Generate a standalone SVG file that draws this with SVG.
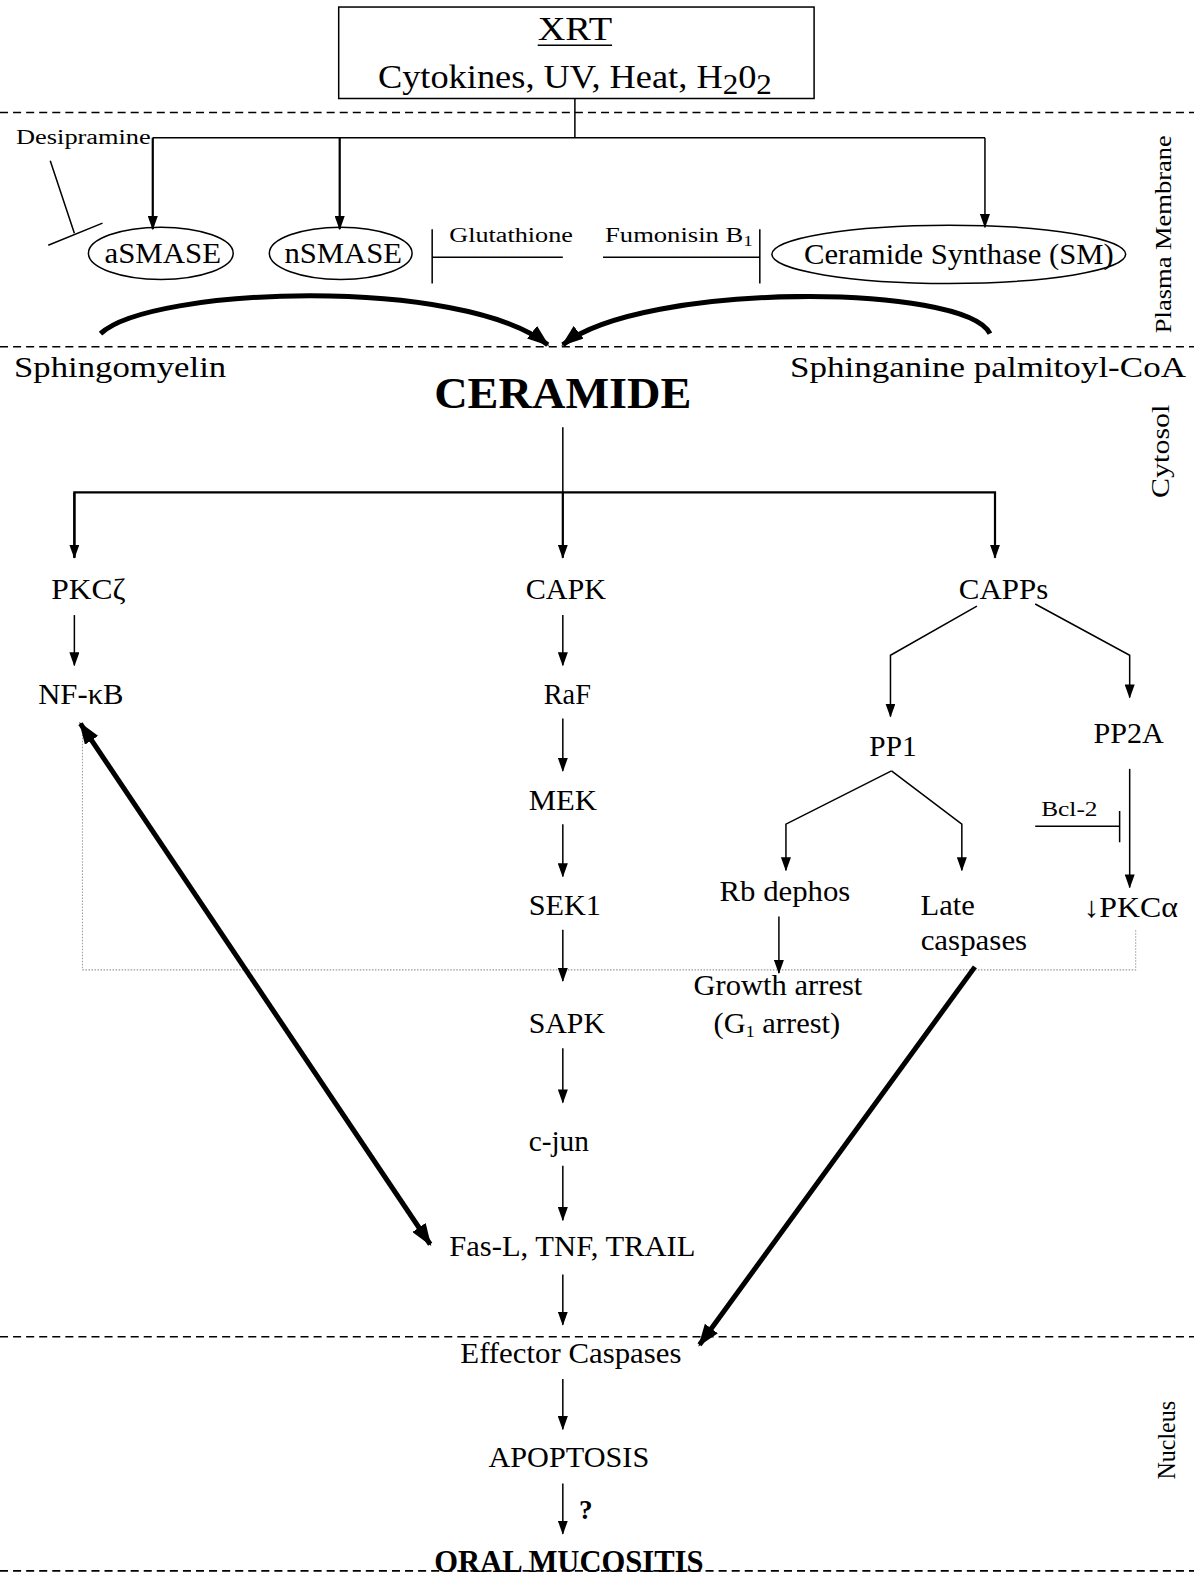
<svg xmlns="http://www.w3.org/2000/svg" width="1194" height="1576" viewBox="0 0 1194 1576">
<style>
text{font-family:"Liberation Serif","Times New Roman",serif;fill:#000}
.lbl{font-size:29px}
.sm{font-size:21px}
.side{font-size:24px}
.ln{stroke:#000;stroke-width:1.5;fill:none}
.ln2{stroke:#000;stroke-width:2.2;fill:none}
.thick{stroke:#000;stroke-width:5;fill:none}
.dash{stroke:#000;stroke-width:1.6;stroke-dasharray:8 5;fill:none}
.dot{stroke:#999;stroke-width:1;stroke-dasharray:1.5 1.5;fill:none}
.ell{stroke:#000;stroke-width:1.5;fill:#fff}
</style>
<defs>
<marker id="ah" viewBox="0 0 14 10" refX="13" refY="5" markerWidth="14" markerHeight="10" markerUnits="userSpaceOnUse" orient="auto"><path d="M0,0 L14,5 L0,10 z" fill="#000"/></marker>
<marker id="ahb" viewBox="0 0 22 16" refX="20" refY="8" markerWidth="22" markerHeight="16" markerUnits="userSpaceOnUse" orient="auto-start-reverse"><path d="M0,0 L22,8 L0,16 z" fill="#000"/></marker>
</defs>
<rect width="1194" height="1576" fill="#fff"/>
<g transform="scale(1.00505)">
<g id="compartments">
<line class="dash" x1="0" y1="112" x2="1188" y2="112"/>
<line class="dash" x1="0" y1="345" x2="1188" y2="345"/>
<line class="dash" x1="0" y1="1330" x2="1188" y2="1330"/>
<line class="dash" x1="0" y1="1563" x2="1188" y2="1563"/>
<text class="side" transform="translate(1165,233) rotate(-90)" text-anchor="middle" textLength="197" lengthAdjust="spacingAndGlyphs">Plasma Membrane</text>
<text class="side" transform="translate(1163,449) rotate(-90)" text-anchor="middle" style="font-size:26px" textLength="93" lengthAdjust="spacingAndGlyphs">Cytosol</text>
<text class="side" transform="translate(1169,1433) rotate(-90)" text-anchor="middle" style="font-size:26px" textLength="78" lengthAdjust="spacingAndGlyphs">Nucleus</text>
<path class="dot" d="M82,722 L82,965 L1130,965 L1130,925"/>
</g>
<g id="stimuli">
<rect x="337" y="7" width="473" height="91" fill="#fff" stroke="#000" stroke-width="1.5"/>
<text x="535" y="40" style="font-size:34px" textLength="74" lengthAdjust="spacingAndGlyphs">XRT</text>
<line x1="535" y1="45" x2="609" y2="45" stroke="#000" stroke-width="1.5"/>
<text x="376" y="88" style="font-size:34px" textLength="392" lengthAdjust="spacingAndGlyphs">Cytokines, UV, Heat, H<tspan baseline-shift="-6" style="font-size:29px">2</tspan>0<tspan baseline-shift="-6" style="font-size:29px">2</tspan></text>
</g>
<g id="desipramine"><text class="sm" x="16" y="143" textLength="134" lengthAdjust="spacingAndGlyphs">Desipramine</text></g>
<g id="asmase"><ellipse class="ell" cx="160" cy="252" rx="72" ry="26"/><text class="lbl" x="104" y="262" textLength="116" lengthAdjust="spacingAndGlyphs">aSMASE</text></g>
<g id="nsmase"><ellipse class="ell" cx="339" cy="252" rx="71" ry="26"/><text class="lbl" x="283" y="262" textLength="117" lengthAdjust="spacingAndGlyphs">nSMASE</text></g>
<g id="glutathione"><text class="sm" x="447" y="241" textLength="123" lengthAdjust="spacingAndGlyphs">Glutathione</text></g>
<g id="fumonisin"><text class="sm" x="602" y="241" textLength="147" lengthAdjust="spacingAndGlyphs">Fumonisin B<tspan baseline-shift="-4" style="font-size:15px">1</tspan></text></g>
<g id="ceramide-synthase"><ellipse class="ell" cx="944" cy="253" rx="176" ry="29"/><text class="lbl" x="800" y="263" textLength="308" lengthAdjust="spacingAndGlyphs">Ceramide Synthase (SM)</text></g>
<g id="sphingomyelin"><text x="14" y="375" style="font-size:30px" textLength="211" lengthAdjust="spacingAndGlyphs">Sphingomyelin</text></g>
<g id="sphinganine"><text x="786" y="375" style="font-size:30px" textLength="394" lengthAdjust="spacingAndGlyphs">Sphinganine palmitoyl-CoA</text></g>
<g id="ceramide"><text x="432" y="406" style="font-size:44px;font-weight:bold" textLength="256" lengthAdjust="spacingAndGlyphs">CERAMIDE</text></g>
<g id="pkcz"><text class="lbl" x="51" y="596" textLength="74" lengthAdjust="spacingAndGlyphs">PKCζ</text></g>
<g id="capk"><text class="lbl" x="523" y="596" textLength="80" lengthAdjust="spacingAndGlyphs">CAPK</text></g>
<g id="capps"><text class="lbl" x="954" y="596" textLength="89" lengthAdjust="spacingAndGlyphs">CAPPs</text></g>
<g id="nfkb"><text class="lbl" x="38" y="700" textLength="85" lengthAdjust="spacingAndGlyphs">NF-κB</text></g>
<g id="raf"><text class="lbl" x="541" y="700" textLength="47" lengthAdjust="spacingAndGlyphs">RaF</text></g>
<g id="mek"><text class="lbl" x="526" y="806" textLength="68" lengthAdjust="spacingAndGlyphs">MEK</text></g>
<g id="sek1"><text class="lbl" x="526" y="910" textLength="72" lengthAdjust="spacingAndGlyphs">SEK1</text></g>
<g id="sapk"><text class="lbl" x="526" y="1028" textLength="76" lengthAdjust="spacingAndGlyphs">SAPK</text></g>
<g id="cjun"><text class="lbl" x="526" y="1145" textLength="60" lengthAdjust="spacingAndGlyphs">c-jun</text></g>
<g id="fasl"><text class="lbl" x="447" y="1250" textLength="245" lengthAdjust="spacingAndGlyphs">Fas-L, TNF, TRAIL</text></g>
<g id="effector"><text class="lbl" x="458" y="1356" textLength="220" lengthAdjust="spacingAndGlyphs">Effector Caspases</text></g>
<g id="apoptosis"><text class="lbl" x="486" y="1460" textLength="160" lengthAdjust="spacingAndGlyphs">APOPTOSIS</text></g>
<g id="mucositis"><text x="432" y="1564" style="font-size:31px;font-weight:bold" textLength="268" lengthAdjust="spacingAndGlyphs">ORAL MUCOSITIS</text></g>
<g id="pp1"><text class="lbl" x="865" y="752" textLength="47" lengthAdjust="spacingAndGlyphs">PP1</text></g>
<g id="pp2a"><text class="lbl" x="1088" y="739" textLength="70" lengthAdjust="spacingAndGlyphs">PP2A</text></g>
<g id="rb"><text class="lbl" x="716" y="896" textLength="130" lengthAdjust="spacingAndGlyphs">Rb dephos</text></g>
<g id="late"><text class="lbl" x="916" y="910" textLength="54" lengthAdjust="spacingAndGlyphs">Late</text><text class="lbl" x="916" y="945" textLength="106" lengthAdjust="spacingAndGlyphs">caspases</text></g>
<g id="pkca"><text class="lbl" x="1078" y="912" textLength="94" lengthAdjust="spacingAndGlyphs">↓PKCα</text></g>
<g id="bcl2"><text class="sm" x="1036" y="812" textLength="56" lengthAdjust="spacingAndGlyphs">Bcl-2</text></g>
<g id="growth"><text class="lbl" x="690" y="990" textLength="168" lengthAdjust="spacingAndGlyphs">Growth arrest</text><text class="lbl" x="710" y="1028" textLength="126" lengthAdjust="spacingAndGlyphs">(G<tspan baseline-shift="-4" style="font-size:17px">1</tspan> arrest)</text></g>
<g id="question"><text x="576" y="1511" style="font-size:27px;font-weight:bold">?</text></g>
<g id="connectors">
<path class="ln" d="M572,98 V137 M152,137 H980"/>
<path class="ln2" d="M152,137 V228" marker-end="url(#ah)"/>
<path class="ln2" d="M338,137 V228" marker-end="url(#ah)"/>
<path class="ln" d="M980,137 V226" marker-end="url(#ah)"/>
<path class="ln" d="M50,160 L74,232 M48,244 L102,222"/>
<path class="ln" d="M430,228 V282 M430,256 H560"/>
<path class="ln" d="M600,256 H756 M756,228 V282"/>
<path class="thick" d="M100,332 C150,285 460,275 545,343" marker-end="url(#ahb)"/>
<path class="thick" d="M985,332 C960,282 640,280 560,343" marker-end="url(#ahb)"/>
<path class="ln" d="M560,425 V490"/>
<path class="ln2" d="M74,555 V490 H990 V555" marker-end="url(#ah)"/>
<path class="ln2" d="M74,490 V555" marker-end="url(#ah)"/>
<path class="ln2" d="M560,490 V555" marker-end="url(#ah)"/>
<path class="ln" d="M74,612 V662" marker-end="url(#ah)"/>
<path class="ln" d="M560,612 V662" marker-end="url(#ah)"/>
<path class="ln" d="M560,715 V767" marker-end="url(#ah)"/>
<path class="ln" d="M560,820 V872" marker-end="url(#ah)"/>
<path class="ln" d="M560,925 V976" marker-end="url(#ah)"/>
<path class="ln" d="M560,1043 V1097" marker-end="url(#ah)"/>
<path class="ln" d="M560,1160 V1214" marker-end="url(#ah)"/>
<path class="ln" d="M560,1268 V1318" marker-end="url(#ah)"/>
<path class="ln" d="M560,1372 V1422" marker-end="url(#ah)"/>
<path class="ln" d="M560,1476 V1526" marker-end="url(#ah)"/>
<path class="ln" d="M972,603 L886,652 V713" marker-end="url(#ah)"/>
<path class="ln" d="M1030,601 L1124,652 V694" marker-end="url(#ah)"/>
<path class="ln" d="M887,767 L782,820 V866" marker-end="url(#ah)"/>
<path class="ln" d="M887,767 L957,820 V866" marker-end="url(#ah)"/>
<path class="ln" d="M775,912 V968" marker-end="url(#ah)"/>
<path class="ln" d="M1124,765 V883" marker-end="url(#ah)"/>
<path class="ln" d="M1030,822 H1114 M1114,807 V838"/>
<path class="thick" d="M80,720 L428,1238" marker-start="url(#ahb)" marker-end="url(#ahb)"/>
<path class="thick" d="M970,962 L696,1338" marker-end="url(#ahb)"/>
</g>
</g>
</svg>
